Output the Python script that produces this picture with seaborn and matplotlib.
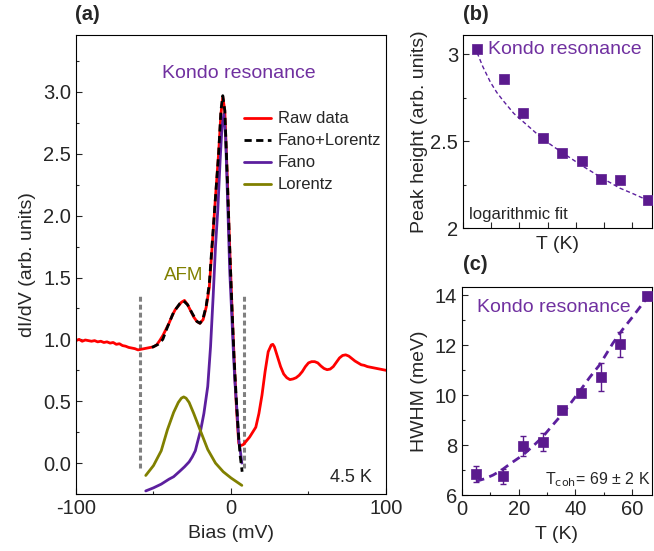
import numpy as np
import pandas as pd
import matplotlib
matplotlib.use("Agg")
import matplotlib.pyplot as plt
import seaborn as sns
from matplotlib.ticker import MultipleLocator, NullFormatter

# ---------------- data ----------------
raw_bias = [-100, -98, -96, -94, -92, -90, -88, -86, -84, -82, -80, -78, -76, -74, -72, -70,
            -68, -66, -64, -62, -60, -58, -56, -54, -52, -50, -48, -46, -44, -42, -40, -38,
            -36, -34, -32, -30, -28, -26, -24, -22, -20, -18, -16, -14, -12, -10, -8, -6.5,
            -5.3, -4, -2.5, -1, 0.5, 2, 3.5, 5, 6, 8, 10, 12, 14, 16, 18, 20, 22, 24, 26, 27,
            28, 30, 32, 34, 36, 38, 40, 42, 44, 46, 48, 50, 52, 54, 56, 58, 60, 62, 64, 66,
            68, 70, 72, 74, 76, 78, 80, 82, 84, 86, 88, 90, 92, 94, 96, 98, 100]
raw_didv = [0.99, 1.00, 0.985, 0.995, 0.99, 0.985, 0.99, 0.98, 0.985, 0.975, 0.98, 0.97, 0.975,
            0.96, 0.965, 0.95, 0.945, 0.935, 0.93, 0.925, 0.915, 0.92, 0.925, 0.93, 0.935, 0.94,
            0.955, 0.99, 1.03, 1.08, 1.13, 1.19, 1.24, 1.27, 1.30, 1.315, 1.28, 1.23, 1.18,
            1.145, 1.13, 1.16, 1.26, 1.42, 1.78, 2.15, 2.5, 2.82, 2.96, 2.85, 2.35, 1.8, 1.3,
            0.85, 0.45, 0.16, 0.14, 0.15, 0.18, 0.21, 0.25, 0.29, 0.40, 0.55, 0.74, 0.90, 0.955,
            0.96, 0.94, 0.86, 0.78, 0.72, 0.69, 0.675, 0.68, 0.69, 0.71, 0.74, 0.78, 0.81, 0.82,
            0.82, 0.81, 0.785, 0.765, 0.755, 0.76, 0.78, 0.815, 0.85, 0.87, 0.875, 0.865, 0.845,
            0.825, 0.81, 0.795, 0.79, 0.78, 0.775, 0.77, 0.765, 0.76, 0.755, 0.75]

fit_bias = [-51, -47, -44, -41, -37, -33, -30.5, -28, -25, -22, -20, -18, -16, -14, -12, -10,
            -8, -6.5, -5.3, -4, -2.5, -1, 0.5, 2, 3.5, 5, 6, 7.2]
fit_didv = [0.935, 0.96, 1.0, 1.1, 1.22, 1.29, 1.31, 1.28, 1.21, 1.145, 1.13, 1.17, 1.27, 1.45,
            1.8, 2.15, 2.5, 2.85, 2.97, 2.85, 2.35, 1.8, 1.3, 0.85, 0.5, 0.2, 0.05, -0.07]

fano_bias = [-55, -50, -45, -40, -37, -33, -30, -27, -25, -23, -21.8, -19.5, -17.5, -15, -13.2,
             -11.5, -10, -8.5, -7, -5.8, -4.6, -3.5, -2, -0.8, 0.5, 1.4, 2.5, 4.0, 5.0, 6.0, 7.0]
fano_didv = [-0.225, -0.20, -0.17, -0.13, -0.11, -0.065, -0.03, 0.01, 0.05, 0.10, 0.16, 0.27,
             0.40, 0.62, 0.94, 1.35, 1.75, 2.05, 2.45, 2.72, 2.82, 2.65, 2.05, 1.55, 1.2, 0.94,
             0.66, 0.40, 0.19, 0.10, 0.0]

lor_bias = [-55, -50, -45, -41, -37, -34, -32, -30.5, -29, -27, -24, -20, -15, -10, -5, 0, 7]
lor_didv = [-0.10, -0.02, 0.10, 0.27, 0.41, 0.49, 0.525, 0.535, 0.525, 0.49, 0.40, 0.27, 0.11,
            0.00, -0.07, -0.12, -0.18]

vline_bias = [-58.4, 8.2]
vline_span = [-0.04, 1.37]

temp_K = [4.8, 14.6, 21.4, 28.4, 35.2, 42.0, 49.0, 55.7, 65.4]
peak_height = [3.03, 2.86, 2.66, 2.52, 2.43, 2.385, 2.28, 2.275, 2.16]

logfit_T = [5, 7, 9.7, 12, 14.4, 18, 21.5, 25, 28.5, 32, 35.6, 42.1, 49.1, 55.6, 60, 65.5]
logfit_h = [3.01, 2.93, 2.84, 2.78, 2.73, 2.66, 2.61, 2.56, 2.51, 2.47, 2.43, 2.36, 2.29, 2.23,
            2.20, 2.16]

hwhm = [6.84, 6.76, 7.97, 8.13, 9.4, 10.1, 10.73, 12.03, 13.96]
hwhm_err = [0.33, 0.30, 0.41, 0.35, 0.10, 0.10, 0.55, 0.50, 0.17]

hwfit_T = [5, 8, 11, 14, 17, 21.5, 25, 28.5, 32, 35.6, 38.5, 41.8, 45, 48.5, 53.2, 56.5, 60.2,
           63, 66]
hwfit_w = [6.55, 6.65, 6.8, 7.0, 7.25, 7.6, 7.95, 8.33, 8.8, 9.27, 9.7, 10.2, 10.7, 11.2, 12.07,
           12.6, 13.13, 13.55, 14.0]

# ---------------- style ----------------
sns.set_style("ticks")
plt.rcParams["font.family"] = ["Liberation Sans", "DejaVu Sans"]
plt.rcParams["xtick.direction"] = "in"
plt.rcParams["ytick.direction"] = "in"

RED = "#ff0000"
PURPLE_LINE = "#5c1f9e"
PURPLE_TXT = "#7030a0"
PURPLE_MK = "#5b1a8e"
OLIVE = "#808000"
GREY = "#808080"
TICK_FS = 14.5
LABEL_FS = 14
PANEL_FS = 14.5

fig = plt.figure(figsize=(6.54, 5.51), dpi=100)
ax_a = fig.add_axes([0.1162, 0.1034, 0.474, 0.833])
ax_b = fig.add_axes([0.708, 0.586, 0.289, 0.350])
ax_c = fig.add_axes([0.7064, 0.1016, 0.2905, 0.3775])

# ---------------- panel (a) ----------------
df_raw = pd.DataFrame({"bias": raw_bias, "didv": raw_didv})
df_fano = pd.DataFrame({"bias": fano_bias, "didv": fano_didv})
df_lor = pd.DataFrame({"bias": lor_bias, "didv": lor_didv})
df_fit = pd.DataFrame({"bias": fit_bias, "didv": fit_didv})

for xb in vline_bias:
    ax_a.plot([xb, xb], vline_span, color=GREY, lw=2.2, ls=(0, (1.6, 1.0)), zorder=1)

sns.lineplot(data=df_raw, x="bias", y="didv", ax=ax_a, color=RED, lw=2.0, sort=False,
             estimator=None, label="Raw data", zorder=2)
sns.lineplot(data=df_fit, x="bias", y="didv", ax=ax_a, color="black", lw=2.0, sort=False,
             estimator=None, label="Fano+Lorentz", zorder=4)
ax_a.lines[-1].set_linestyle((0, (2.6, 1.6)))
sns.lineplot(data=df_fano, x="bias", y="didv", ax=ax_a, color=PURPLE_LINE, lw=2.0, sort=False,
             estimator=None, label="Fano", zorder=3)
sns.lineplot(data=df_lor, x="bias", y="didv", ax=ax_a, color=OLIVE, lw=2.0, sort=False,
             estimator=None, label="Lorentz", zorder=3)

ax_a.set_xlim(-100, 100)
ax_a.set_ylim(-0.25, 3.46)
ax_a.set_xticks([-100, 0, 100])
ax_a.set_xticklabels(["-100", "0", "100"])
ax_a.xaxis.set_minor_locator(MultipleLocator(50))
ax_a.set_yticks([0.0, 0.5, 1.0, 1.5, 2.0, 2.5, 3.0])
ax_a.set_yticklabels(["0.0", "0.5", "1.0", "1.5", "2.0", "2.5", "3.0"])
ax_a.yaxis.set_minor_locator(MultipleLocator(0.25))
ax_a.tick_params(which="major", length=4, labelsize=TICK_FS, width=0.8)
ax_a.tick_params(which="minor", length=2.5, width=0.8)
ax_a.set_xlabel("Bias (mV)", fontsize=LABEL_FS, labelpad=5)
ax_a.set_ylabel("dI/dV (arb. units)", fontsize=LABEL_FS, labelpad=5)

leg = ax_a.legend(loc="upper left", bbox_to_anchor=(0.522, 0.848), frameon=False,
                  fontsize=12, handlelength=1.6, handletextpad=0.4, labelspacing=0.42,
                  borderaxespad=0)
ax_a.text(0.526, 0.917, "Kondo resonance", transform=ax_a.transAxes, color=PURPLE_TXT,
          fontsize=14, ha="center", va="center")
ax_a.text(-30.5, 1.52, "AFM", color=OLIVE, fontsize=13.5, ha="center", va="center")
ax_a.text(0.955, 0.035, "4.5 K", transform=ax_a.transAxes, fontsize=13, ha="right",
          va="center")
fig.text(75 / 654, 1 - 15 / 551, "(a)", fontsize=PANEL_FS, fontweight="bold", ha="left",
         va="center")

# ---------------- panel (b) ----------------
df_b = pd.DataFrame({"T": temp_K, "h": peak_height})
df_bfit = pd.DataFrame({"T": logfit_T, "h": logfit_h})
sns.lineplot(data=df_bfit, x="T", y="h", ax=ax_b, color=PURPLE_LINE, lw=1.0, sort=False,
             estimator=None, zorder=2)
ax_b.lines[-1].set_linestyle((0, (3, 2)))
sns.scatterplot(data=df_b, x="T", y="h", ax=ax_b, marker="s", s=48, color=PURPLE_MK,
                edgecolor=PURPLE_MK, linewidth=0.5, zorder=3)
ax_b.set_xlim(0, 67)
ax_b.set_ylim(2.0, 3.11)
ax_b.xaxis.set_major_locator(MultipleLocator(10))
ax_b.xaxis.set_major_formatter(NullFormatter())
ax_b.set_yticks([2.0, 2.5, 3.0])
ax_b.set_yticklabels(["2", "2.5", "3"])
ax_b.yaxis.set_minor_locator(MultipleLocator(0.25))
ax_b.tick_params(which="major", length=4, labelsize=TICK_FS, width=0.8)
ax_b.tick_params(which="minor", length=2.5, width=0.8)
ax_b.set_xlabel("T (K)", fontsize=LABEL_FS, labelpad=2)
ax_b.set_ylabel("Peak height (arb. units)", fontsize=LABEL_FS, labelpad=1.5)
ax_b.text(0.13, 0.925, "Kondo resonance", transform=ax_b.transAxes, color=PURPLE_TXT,
          fontsize=14, ha="left", va="center")
ax_b.text(0.03, 0.07, "logarithmic fit", transform=ax_b.transAxes, fontsize=12,
          ha="left", va="center")
fig.text(463 / 654, 1 - 15 / 551, "(b)", fontsize=PANEL_FS, fontweight="bold", ha="left",
         va="center")

# ---------------- panel (c) ----------------
df_c = pd.DataFrame({"T": temp_K, "w": hwhm, "err": hwhm_err})
df_cfit = pd.DataFrame({"T": hwfit_T, "w": hwfit_w})
sns.lineplot(data=df_cfit, x="T", y="w", ax=ax_c, color=PURPLE_LINE, lw=2.0, sort=False,
             estimator=None, zorder=2)
ax_c.lines[-1].set_linestyle((0, (3, 2)))
ax_c.errorbar(df_c["T"], df_c["w"], yerr=df_c["err"], fmt="none", ecolor=PURPLE_MK,
              elinewidth=1.0, capsize=2.5, capthick=1.0, zorder=3)
sns.scatterplot(data=df_c, x="T", y="w", ax=ax_c, marker="s", s=48, color=PURPLE_MK,
                edgecolor=PURPLE_MK, linewidth=0.5, zorder=4)
ax_c.set_xlim(0, 67)
ax_c.set_ylim(6, 14.32)
ax_c.set_xticks([0, 20, 40, 60])
ax_c.xaxis.set_minor_locator(MultipleLocator(10))
ax_c.set_yticks([6, 8, 10, 12, 14])
ax_c.yaxis.set_minor_locator(MultipleLocator(1))
ax_c.tick_params(which="major", length=4, labelsize=TICK_FS, width=0.8)
ax_c.tick_params(which="minor", length=2.5, width=0.8)
ax_c.set_xlabel("T (K)", fontsize=LABEL_FS, labelpad=5)
ax_c.set_ylabel("HWHM (meV)", fontsize=LABEL_FS, labelpad=5)
ax_c.text(0.08, 0.90, "Kondo resonance", transform=ax_c.transAxes, color=PURPLE_TXT,
          fontsize=14, ha="left", va="center")
ax_c.text(0.99, 0.075, r"T$_{\rm coh}$= 69 ± 2 K", transform=ax_c.transAxes, fontsize=11.5,
          ha="right", va="center")
fig.text(463 / 654, 1 - 265 / 551, "(c)", fontsize=PANEL_FS, fontweight="bold", ha="left",
         va="center")

for ax in (ax_a, ax_b, ax_c):
    for sp in ax.spines.values():
        sp.set_visible(True)
        sp.set_linewidth(0.8)
        sp.set_color("black")

fig.savefig("out.png", dpi=100)
